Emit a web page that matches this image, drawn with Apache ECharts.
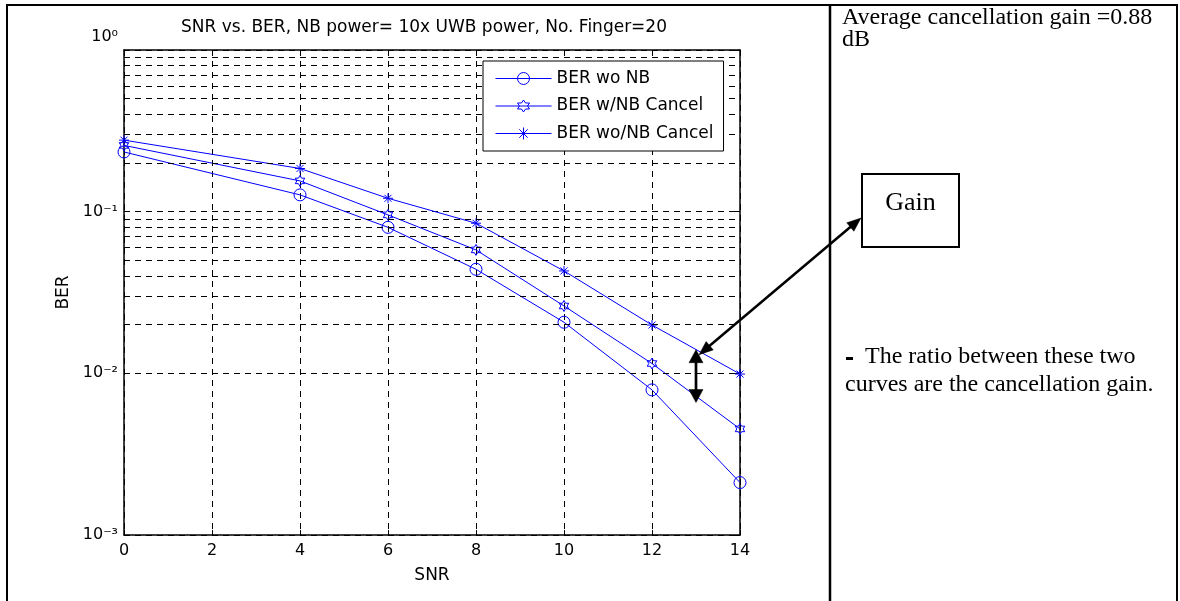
<!DOCTYPE html>
<html>
<head>
<meta charset="utf-8">
<script src="https://cdn.jsdelivr.net/npm/echarts@6/dist/echarts.min.js"></script>
<style>
  html, body { margin: 0; padding: 0; background: #fff; }
  #chart { width: 1180px; height: 601px; }
</style>
</head>
<body>
<div id="chart"></div>
<script>
// SNR (dB) sample points
const snr = [0, 4, 6, 8, 10, 12, 14];
// Bit error rate for each receiver configuration
const berNoNB = [0.234, 0.127, 0.080, 0.0440, 0.0207, 0.0079, 0.00211];
const berNBCancel = [0.257, 0.155, 0.0955, 0.058, 0.0261, 0.0115, 0.00453];
const berNBNoCancel = [0.277, 0.185, 0.121, 0.0848, 0.0430, 0.0199, 0.0099];
const seriesNames = ['BER wo NB', 'BER w/NB Cancel', 'BER wo/NB Cancel'];

const titleText = 'SNR vs. BER, NB power= 10x UWB power, No. Finger=20';
const noteLines = ['Average cancellation gain =0.88', 'dB'];
const ratioLines = ['The ratio between these two', 'curves are the cancellation gain.'];
const gainLabel = 'Gain';

// gap between the two lower-error curves marked by the vertical arrow
const gapSnr = 13;
const gapTop = 0.014;
const gapBottom = 0.0066;

// decade-minor grid values (2..9 x 10^k)
const decades = [0.001, 0.01, 0.1];
const minorSteps = [2, 3, 4, 5, 6, 7, 8, 9];
const minorGridValues = [];
decades.forEach(d => minorSteps.forEach(m => minorGridValues.push(+(d * m).toPrecision(3))));

const BLUE = '#0000ff';
const SANS = 'DejaVu Sans';
const SERIF = 'Liberation Serif';
const dash = [6, 5];

const hexagram = 'path://M0,-100 L28.9,-50 L86.6,-50 L57.7,0 L86.6,50 L28.9,50 L0,100 L-28.9,50 L-86.6,50 L-57.7,0 L-86.6,-50 L-28.9,-50 Z';
const asterisk = 'path://M0,-100 L0,100 M-100,0 L100,0 M-70,-70 L70,70 M-70,70 L70,-70';

const SUP = { '-': '\u207B', '0': '\u2070', '1': '\u00B9', '2': '\u00B2', '3': '\u00B3' };
function decadeLabel(v) {
  const e = String(Math.round(Math.log10(v)));
  return '10' + e.split('').map(c => SUP[c]).join('');
}

function pairs(ys) { return snr.map((x, i) => [x, ys[i]]); }

function curve(name, ys, symbol, size) {
  return {
    name, type: 'line', data: pairs(ys),
    xAxisIndex: 0, yAxisIndex: 0,
    symbol, symbolSize: size, symbolKeepAspect: true, showSymbol: true,
    lineStyle: { color: BLUE, width: 1 },
    itemStyle: { color: 'none', borderColor: BLUE, borderWidth: 1 },
    emphasis: { disabled: true },
    silent: true, z: 3
  };
}

const chart = echarts.init(document.getElementById('chart'), null, { renderer: 'canvas' });

const yMin = 0.001, yMax = 1;

chart.setOption({
  animation: false,
  backgroundColor: '#fff',
  grid: { left: 124, top: 50, right: 440, bottom: 66, containLabel: false },
  xAxis: [{
    type: 'value', min: 0, max: 14, interval: 2, position: 'bottom',
    axisLine: { show: true, onZero: false, lineStyle: { color: '#000', width: 1.5 } },
    axisTick: { show: true, inside: true, length: 5, lineStyle: { color: '#000' } },
    axisLabel: { margin: 8, color: '#000', fontFamily: SANS, fontSize: 16 },
    splitLine: { show: true, lineStyle: { type: dash, color: '#000', width: 1 } },
    name: 'SNR', nameLocation: 'middle', nameGap: 32,
    nameTextStyle: { color: '#000', fontFamily: SANS, fontSize: 17 }
  }, {
    type: 'value', min: 0, max: 14, interval: 2, position: 'top',
    axisLine: { show: true, onZero: false, lineStyle: { color: '#000', width: 1.5 } },
    axisTick: { show: true, inside: true, length: 5, lineStyle: { color: '#000' } },
    axisLabel: { show: false }, splitLine: { show: false }
  }],
  yAxis: [{
    type: 'log', logBase: 10, min: yMin, max: yMax, position: 'left',
    axisLine: { show: true, onZero: false, lineStyle: { color: '#000', width: 1.5 } },
    axisTick: { show: true, inside: true, length: 5, lineStyle: { color: '#000' } },
    axisLabel: {
      margin: 6, color: '#000', fontFamily: SANS, fontSize: 16,
      showMaxLabel: false,
      formatter: decadeLabel
    },
    splitLine: { show: true, lineStyle: { type: dash, color: '#000', width: 1 } },
    name: 'BER', nameLocation: 'middle', nameGap: 46, nameRotate: 90,
    nameTextStyle: { color: '#000', fontFamily: SANS, fontSize: 17 }
  }, {
    type: 'log', logBase: 10, min: yMin, max: yMax, position: 'right',
    axisLine: { show: true, onZero: false, lineStyle: { color: '#000', width: 1.5 } },
    axisTick: { show: true, inside: true, length: 5, lineStyle: { color: '#000' } },
    axisLabel: { show: false }, splitLine: { show: false }
  }],
  legend: {
    data: seriesNames.map(name => ({
      name,
      lineStyle: { color: BLUE, width: 1 },
      itemStyle: { color: 'none', borderColor: BLUE, borderWidth: 1 }
    })),
    orient: 'vertical', left: 483, top: 61,
    padding: [9, 10, 9, 12], itemGap: 10.5, itemWidth: 56, itemHeight: 15,
    backgroundColor: '#fff', borderColor: '#000', borderWidth: 1, borderRadius: 0,
    selectedMode: false,
    textStyle: { fontFamily: SANS, fontSize: 17, color: '#000', lineHeight: 15 },
    lineStyle: { color: BLUE, width: 1 },
    itemStyle: { color: 'none', borderColor: BLUE, borderWidth: 1 },
    z: 10
  },
  series: [
    {
      name: 'minor-grid', type: 'line', data: [], z: 1, silent: true,
      markLine: {
        silent: true, symbol: 'none', animation: false,
        label: { show: false },
        lineStyle: { type: dash, color: '#000', width: 1 },
        emphasis: { disabled: true },
        data: minorGridValues.map(v => ({ yAxis: v }))
      }
    },
    curve(seriesNames[0], berNoNB, 'circle', 12),
    curve(seriesNames[1], berNBCancel, hexagram, 11),
    curve(seriesNames[2], berNBNoCancel, asterisk, 10)
  ]
});

// annotation arrows
function arrowHead(from, to, len, width, id) {
  const dx = to[0] - from[0], dy = to[1] - from[1];
  const L = Math.hypot(dx, dy);
  const ux = dx / L, uy = dy / L, px = -uy, py = ux;
  const bx = to[0] - ux * len, by = to[1] - uy * len;
  return {
    type: 'polygon', id, silent: true, z: 20,
    shape: { points: [to, [bx + px * width / 2, by + py * width / 2], [bx - px * width / 2, by - py * width / 2]] },
    style: { fill: '#000', stroke: '#000', lineWidth: 0.5 }
  };
}
function doubleArrow(a, b, len, width, lw, id) {
  const dx = b[0] - a[0], dy = b[1] - a[1];
  const L = Math.hypot(dx, dy);
  const ux = dx / L, uy = dy / L;
  return [
    { type: 'line', id: id + '-shaft', silent: true, z: 20,
      shape: { x1: a[0] + ux * len * 0.8, y1: a[1] + uy * len * 0.8, x2: b[0] - ux * len * 0.8, y2: b[1] - uy * len * 0.8 },
      style: { stroke: '#000', lineWidth: lw } },
    arrowHead(b, a, len, width, id + '-a'),
    arrowHead(a, b, len, width, id + '-b')
  ];
}

const gapTopPx = chart.convertToPixel({ xAxisIndex: 0, yAxisIndex: 0 }, [gapSnr, gapTop]);
const gapBotPx = chart.convertToPixel({ xAxisIndex: 0, yAxisIndex: 0 }, [gapSnr, gapBottom]);
// top decade label is lifted clear of the title area
const topTickY = chart.convertToPixel({ yAxisIndex: 0 }, yMax);

const gainBox = { x: 862, y: 174, width: 97, height: 73 };
const diagStart = [gapTopPx[0] + 3, gapTopPx[1] + 5];
const diagEnd = [gainBox.x - 1, gainBox.y + 44];

const serifText = (id, text, x, y, size, extra) => ({
  type: 'text', id, x, y, silent: true, z: 20,
  style: Object.assign({ text, font: size + 'px "' + SERIF + '"', fill: '#000', textAlign: 'left', textVerticalAlign: 'middle' }, extra || {})
});

chart.setOption({
  graphic: { elements: [
    { type: 'rect', id: 'frame', silent: true, z: 0,
      shape: { x: 7, y: 5, width: 1170, height: 640 },
      style: { fill: 'none', stroke: '#000', lineWidth: 2 } },
    { type: 'line', id: 'divider', silent: true, z: 0,
      shape: { x1: 830, y1: 5, x2: 830, y2: 601 },
      style: { stroke: '#000', lineWidth: 2.5 } },
    { type: 'text', id: 'title', x: 424, y: 28, silent: true, z: 20,
      style: { text: titleText, font: '17px "' + SANS + '"', fill: '#000', textAlign: 'center', textVerticalAlign: 'middle' } },
    { type: 'text', id: 'topDecade', x: 118, y: topTickY - 13, silent: true, z: 20,
      style: { text: decadeLabel(yMax), font: '16px "' + SANS + '"', fill: '#000', textAlign: 'right', textVerticalAlign: 'middle' } },
    serifText('note1', noteLines[0], 842, 18, 24),
    serifText('note2', noteLines[1], 842, 40, 24),
    { type: 'rect', id: 'bullet', silent: true, z: 20,
      shape: { x: 846, y: 357, width: 7, height: 3 }, style: { fill: '#000' } },
    serifText('ratio1', ratioLines[0], 865, 357, 24),
    serifText('ratio2', ratioLines[1], 845, 385, 24),
    { type: 'rect', id: 'gainBox', silent: true, z: 20,
      shape: gainBox, style: { fill: '#fff', stroke: '#000', lineWidth: 2 } },
    serifText('gainText', gainLabel, gainBox.x + gainBox.width / 2, 203, 26, { textAlign: 'center' }),
    ...doubleArrow(gapTopPx, gapBotPx, 13, 14, 2.7, 'gap'),
    ...doubleArrow(diagStart, diagEnd, 14, 11, 2.5, 'diag')
  ] }
});
</script>
</body>
</html>
